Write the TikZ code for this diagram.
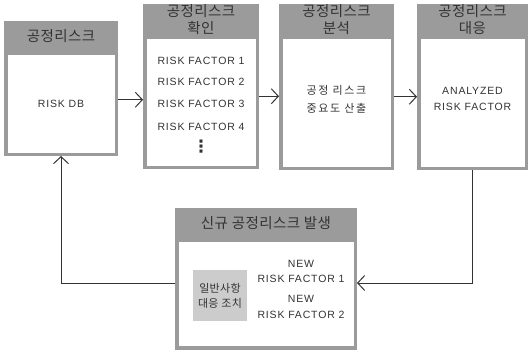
\documentclass[tikz,border=0pt]{standalone}
\usepackage{fontspec}
\setmainfont{Liberation Sans}
\newfontfamily\lat[LetterSpace=8]{Liberation Sans}
\newfontfamily\krhead[LetterSpace=3]{Noto Sans CJK KR}
\newfontfamily\krbody[LetterSpace=15]{Noto Sans CJK KR}
\newfontfamily\krsmall[LetterSpace=3]{Noto Sans CJK KR}
\newfontfamily\dotfont{DejaVu Sans}
\usepackage{tikz}
\usetikzlibrary{arrows.meta, positioning}
\definecolor{headgray}{RGB}{155,155,155}
\definecolor{subgray}{RGB}{204,204,204}
\definecolor{ink}{RGB}{51,51,51}
\tikzstyle{body} = [rectangle,
draw=headgray,
line width=3.5pt,
fill=white]
\tikzstyle{head} = [rectangle,
fill=headgray,
outer sep=0pt,
inner sep=0pt,
align=center,
text=ink,
font=\krhead\fontsize{14.5}{16.5}\selectfont]
\tikzstyle{lbl} = [inner sep=0pt, align=center, text=ink,
font=\lat\fontsize{10.5}{15.5}\selectfont]
\tikzstyle{krlbl} = [inner sep=0pt, align=center, text=ink,
font=\krbody\fontsize{11}{18}\selectfont]
\tikzstyle{dotlbl} = [inner sep=0pt, text=ink,
font=\dotfont\bfseries\fontsize{17}{17}\selectfont]
\tikzstyle{arrow} = [line width=1pt, draw=ink, -{Straight Barb[length=7pt,width=15pt]}]

\begin{document}
\begin{tikzpicture}[x=1pt, y=-1pt]
            \useasboundingbox (0,0) rectangle (529,350);

            \node (db) [body, minimum width=110.5pt, minimum height=101pt] at (61,103.75) {};
            \node (dbh) [head, minimum width=114pt, minimum height=30.5pt, above=0pt of db] {공정리스크};
            \node (dbt) [lbl] at (61,104) {RISK DB};

            \node (chk) [body, minimum width=112.5pt, minimum height=130pt] at (201,102.25) {};
            \node (chkh) [head, minimum width=116pt, minimum height=31.5pt, above=0pt of chk] {공정리스크\\확인};
            \node (rf1) [lbl] at (201,61) {RISK FACTOR 1};
            \node (rf2) [lbl] at (201,82) {RISK FACTOR 2};
            \node (rf3) [lbl] at (201,104) {RISK FACTOR 3};
            \node (rf4) [lbl] at (201,127) {RISK FACTOR 4};
            \node (rfdots) [dotlbl] at (201,147) {⋮};

            \node (anl) [body, minimum width=111.5pt, minimum height=131pt] at (336.5,102.75) {};
            \node (anlh) [head, minimum width=115pt, minimum height=31.5pt, above=0pt of anl] {공정리스크\\분석};
            \node (anlt) [krlbl] at (336.5,99) {공정 리스크\\중요도 산출};

            \node (rsp) [body, minimum width=107.5pt, minimum height=131pt] at (472.5,102.75) {};
            \node (rsph) [head, minimum width=111pt, minimum height=31.5pt, above=0pt of rsp] {공정리스크\\대응};
            \node (rspt) [lbl] at (472.5,99) {ANALYZED\\RISK FACTOR};

            \node (new) [body, minimum width=178.5pt, minimum height=107.5pt] at (266,294) {};
            \node (newh) [head, minimum width=182pt, minimum height=30.5pt, above=0pt of new] {신규 공정리스크 발생};
            \node (gen) [fill=subgray, minimum width=54pt, minimum height=51pt, inner sep=0pt, align=center, text=ink,
                font=\krsmall\fontsize{11}{15}\selectfont] at (220,295.5) {일반사항\\대응 조치};
            \node (nf1) [lbl] at (301,271.5) {NEW\\RISK FACTOR 1};
            \node (nf2) [lbl] at (301,307) {NEW\\RISK FACTOR 2};

            \draw [arrow] ([yshift=4pt]db.east) -- ([yshift=4pt]db.east -| chk.west);
            \draw [arrow] ([yshift=6pt]chk.east) -- ([yshift=6pt]chk.east -| anl.west);
            \draw [arrow] ([yshift=6pt]anl.east) -- ([yshift=6pt]anl.east -| rsp.west);
            \draw [arrow] (rsp.south) |- ([yshift=11pt]new.east);
            \draw [arrow] ([yshift=11pt]new.west) -| (db.south);
        \end{tikzpicture}
\end{document}
